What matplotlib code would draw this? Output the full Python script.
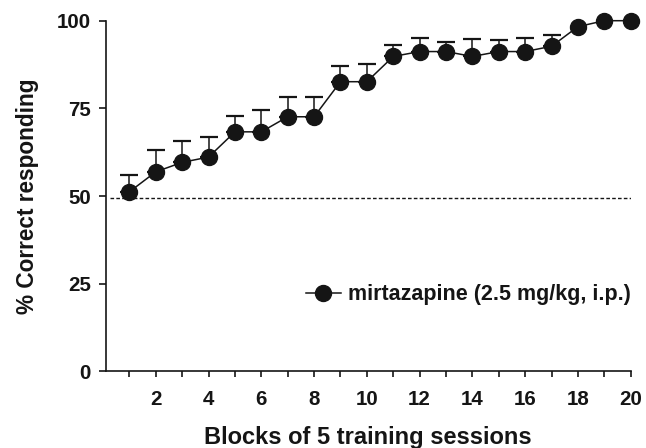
import matplotlib
matplotlib.use('Agg')
import matplotlib.pyplot as plt
import numpy as np

plt.rcParams.update({'font.family': ['Liberation Sans', 'DejaVu Sans'],
                     'font.weight': 'bold',
                     'font.size': 14.8})

# data
blocks = np.arange(1, 21)
correct = np.array([51.2, 56.9, 59.6, 61.1, 68.3, 68.3, 72.6, 72.6, 82.6, 82.6,
                    89.8, 91.2, 91.2, 89.8, 91.2, 91.2, 92.7, 98.3, 100., 100.])
sem = np.array([4.9, 6.2, 6.0, 5.8, 4.6, 6.3, 5.6, 5.6, 4.6, 5.1,
                3.3, 3.9, 2.8, 5.1, 3.4, 3.9, 3.3, 0., 0., 0.])
chance = 49.5
label = 'mirtazapine (2.5 mg/kg, i.p.)'

fig = plt.figure(figsize=(6.46, 4.48), dpi=100, facecolor='w')
ax = fig.add_axes([0.1636, 0.1712, 0.8127, 0.7826])

dark = '#151515'

# chance line
ax.plot([0.25, 20], [chance, chance], ls=(0, (2.6, 1.6)), c=dark, lw=1.0, zorder=1)

# upward error bars only
has = sem > 0
ax.errorbar(blocks[has], correct[has], yerr=[np.zeros(has.sum()), sem[has]],
            fmt='none', ecolor=dark, elinewidth=1.1, capsize=6.5, capthick=1.6,
            zorder=2)

ax.plot(blocks, correct, '-o', c=dark, lw=1.1, ms=11.5, mfc=dark, mec=dark,
        label=label, zorder=3, clip_on=False)

ax.set_xlim(0.1, 20)
ax.set_ylim(0, 100)
ax.set_xticks(blocks)
ax.set_xticklabels([str(b) if b % 2 == 0 else '' for b in blocks])
ax.set_yticks([0, 25, 50, 75, 100])

for s in ['top', 'right']:
    ax.spines[s].set_visible(False)
for s in ['left', 'bottom']:
    ax.spines[s].set_linewidth(1.2)
    ax.spines[s].set_color(dark)

ax.tick_params(axis='x', length=4.5, width=1.2, pad=9, colors=dark)
ax.tick_params(axis='y', length=4.8, width=1.2, pad=6, colors=dark)

ax.set_xlabel('Blocks of 5 training sessions', fontweight='bold', fontsize=17,
              labelpad=12, color=dark)
ax.set_ylabel('% Correct responding', fontweight='bold', fontsize=16.3,
              labelpad=13, color=dark)

leg = ax.legend(loc='center right', bbox_to_anchor=(1.0, 0.218), frameon=False,
                fontsize=15.5, borderaxespad=0, borderpad=0,
                handlelength=1.6, handletextpad=0.33)
for t in leg.get_texts():
    t.set_color(dark)

fig.savefig('out.png', dpi=100)
